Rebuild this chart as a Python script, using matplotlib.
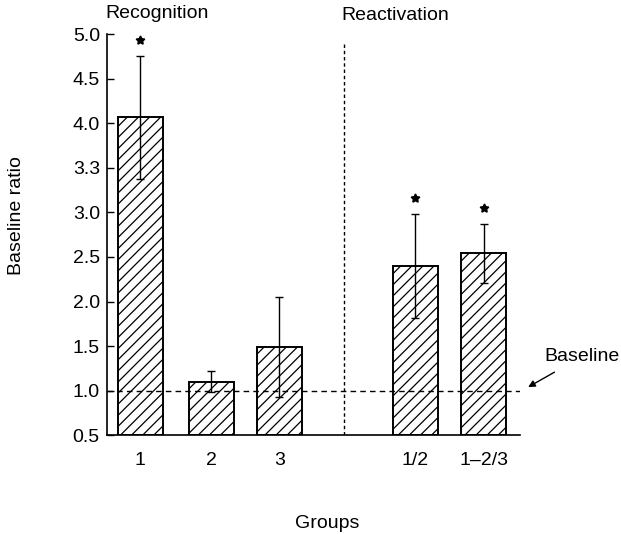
import matplotlib
matplotlib.use("Agg")
import matplotlib.pyplot as plt

plt.rcParams['font.family'] = ['Liberation Sans', 'DejaVu Sans']
plt.rcParams['hatch.linewidth'] = 0.9

# data
groups = ['1', '2', '3', '1/2', '1\u20132/3']
means = [4.07, 1.10, 1.49, 2.40, 2.54]
errors = [0.69, 0.12, 0.56, 0.58, 0.33]
significant = [True, False, False, True, True]
yticks = [0.5, 1.0, 1.5, 2.0, 2.5, 3.0, 3.5, 4.0, 4.5, 5.0]
ytick_labels = ['0.5', '1.0', '1.5', '2.0', '2.5', '3.0', '3.3', '4.0', '4.5', '5.0']
baseline = 1.0

# layout
xpos = [0, 1.02, 2.0, 3.96, 4.94]
bar_width = 0.65
separator_x = 2.93

fig = plt.figure(figsize=(6.21, 5.34), dpi=100)
ax = fig.add_axes([0.172, 0.185, 0.665, 0.751])

ax.bar(xpos, [m - 0.5 for m in means], bottom=0.5, width=bar_width,
       color='white', edgecolor='black', linewidth=1.4, hatch='///', zorder=2)
ax.errorbar(xpos, means, yerr=errors, fmt='none', ecolor='black',
            elinewidth=1.0, capsize=3, capthick=1.0, zorder=3)

for x, m, e, s in zip(xpos, means, errors, significant):
    if s:
        ax.plot(x, m + e + 0.18, marker=(5, 1, 0), color='black',
                markersize=6.5, linestyle='none', zorder=4)

# baseline is drawn over the bars, as in the original
ax.axhline(baseline, color='black', linestyle=(0, (4, 3)), linewidth=1.0, zorder=3)
ax.plot([separator_x, separator_x], [0.5, 4.9], color='black',
        linestyle=(0, (2.5, 2)), linewidth=1.0)

ax.annotate('Baseline', xy=(5.58, 1.04), xytext=(6.35, 1.38),
            ha='center', va='center', fontsize=14, annotation_clip=False,
            arrowprops=dict(arrowstyle='-|>', color='black', lw=1.0,
                            shrinkA=6, shrinkB=0, mutation_scale=10))

ax.set_xlim(-0.48, 5.46)
ax.set_ylim(0.5, 5.0)
ax.set_yticks(yticks)
ax.set_yticklabels(ytick_labels, fontsize=14)
ax.set_xticks(xpos)
ax.set_xticklabels(groups, fontsize=14)
ax.tick_params(axis='y', direction='in', length=5, width=1.0, pad=5)
ax.tick_params(axis='x', length=0, pad=12)
for side in ['top', 'right']:
    ax.spines[side].set_visible(False)
ax.spines['left'].set_linewidth(1.2)
ax.spines['bottom'].set_linewidth(1.2)

fig.text(157 / 621, 1 - 14 / 534, 'Recognition', ha='center', va='center', fontsize=14)
fig.text(395 / 621, 1 - 15 / 534, 'Reactivation', ha='center', va='center', fontsize=14)
fig.text(17 / 621, 1 - 216 / 534, 'Baseline ratio', ha='center', va='center',
         rotation=90, fontsize=14)
fig.text(327 / 621, 1 - 523 / 534, 'Groups', ha='center', va='center', fontsize=14)

fig.savefig('out.png', dpi=100)
